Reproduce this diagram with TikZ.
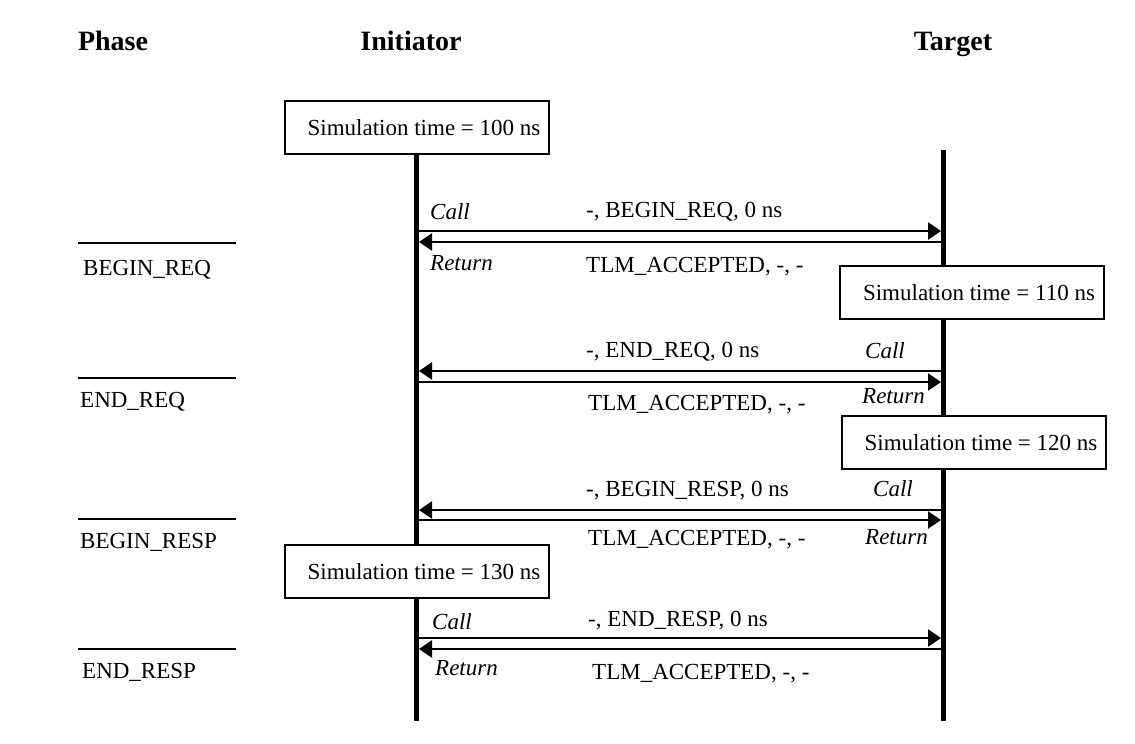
\documentclass[tikz,border=0pt]{standalone}
\usepackage{fontspec}
\setmainfont{Liberation Serif}
\usetikzlibrary{arrows.meta}
\begin{document}
\begin{tikzpicture}[x=1pt,y=-1pt,
  lbl/.style={inner sep=0, anchor=base west, font=\fontsize{23}{27}\selectfont},
  ital/.style={inner sep=0, anchor=base west, font=\fontsize{23}{27}\selectfont\itshape},
  hdr/.style={inner sep=0, anchor=base, font=\fontsize{28}{32}\selectfont\bfseries},
  simbox/.style={draw, line width=2, fill=white, minimum width=264, minimum height=53, anchor=north west, inner sep=0, font=\fontsize{23}{27}\selectfont},
  life/.style={line width=5},
  msg/.style={line width=2.5, -{Triangle[length=13,width=17]}},
  phaseline/.style={line width=2},
]
\useasboundingbox (0,0) rectangle (1135,744);

% headings
\node[hdr] (hphase) at (113,50) {Phase};
\node[hdr] (hinit) at (411,50) {Initiator};
\node[hdr] (htarg) at (953,50) {Target};

% lifelines
\coordinate (itop) at (416,152);
\coordinate (ibot) at (416,721);
\coordinate (ttop) at (943,150);
\coordinate (tbot) at (943,721);
\draw[life] (itop) -- (ibot);
\draw[life] (ttop) -- (tbot);

% phase separators
\coordinate (p1a) at (78,243); \coordinate (p1b) at (236,243);
\coordinate (p2a) at (78,378); \coordinate (p2b) at (236,378);
\coordinate (p3a) at (78,519); \coordinate (p3b) at (236,519);
\coordinate (p4a) at (78,649); \coordinate (p4b) at (236,649);
\draw[phaseline] (p1a) -- (p1b);
\draw[phaseline] (p2a) -- (p2b);
\draw[phaseline] (p3a) -- (p3b);
\draw[phaseline] (p4a) -- (p4b);
\node[lbl] (ph1) at (83,275) {BEGIN\_REQ};
\node[lbl] (ph2) at (80,407) {END\_REQ};
\node[lbl] (ph3) at (80,548) {BEGIN\_RESP};
\node[lbl] (ph4) at (82,678) {END\_RESP};

% exchange 1 : BEGIN_REQ
\coordinate (i1a) at (416,231); \coordinate (t1a) at (941,231);
\coordinate (i1b) at (419,242); \coordinate (t1b) at (943,242);
\draw[msg] (i1a) -- (t1a);
\draw[msg] (t1b) -- (i1b);
\node[ital] (call1) at (430,219) {Call};
\node[ital] (ret1) at (430,270) {Return};
\node[lbl] (m1) at (586,217) {-, BEGIN\_REQ, 0 ns};
\node[lbl] (r1) at (586,272) {TLM\_ACCEPTED, -, -};

% exchange 2 : END_REQ
\coordinate (t2a) at (943,371); \coordinate (i2a) at (419,371);
\coordinate (i2b) at (416,382); \coordinate (t2b) at (941,382);
\draw[msg] (t2a) -- (i2a);
\draw[msg] (i2b) -- (t2b);
\node[ital] (call2) at (865,358) {Call};
\node[ital] (ret2) at (862,403) {Return};
\node[lbl] (m2) at (586,357) {-, END\_REQ, 0 ns};
\node[lbl] (r2) at (588,410) {TLM\_ACCEPTED, -, -};

% exchange 3 : BEGIN_RESP
\coordinate (t3a) at (943,510); \coordinate (i3a) at (419,510);
\coordinate (i3b) at (416,520); \coordinate (t3b) at (941,520);
\draw[msg] (t3a) -- (i3a);
\draw[msg] (i3b) -- (t3b);
\node[ital] (call3) at (873,496) {Call};
\node[ital] (ret3) at (865,544) {Return};
\node[lbl] (m3) at (586,496) {-, BEGIN\_RESP, 0 ns};
\node[lbl] (r3) at (588,545) {TLM\_ACCEPTED, -, -};

% exchange 4 : END_RESP
\coordinate (i4a) at (416,638); \coordinate (t4a) at (941,638);
\coordinate (t4b) at (943,649); \coordinate (i4b) at (419,649);
\draw[msg] (i4a) -- (t4a);
\draw[msg] (t4b) -- (i4b);
\node[ital] (call4) at (432,629) {Call};
\node[ital] (ret4) at (435,675) {Return};
\node[lbl] (m4) at (588,626) {-, END\_RESP, 0 ns};
\node[lbl] (r4) at (592,679) {TLM\_ACCEPTED, -, -};

% simulation time boxes
\node[simbox] (s100) at (284,100) {\hspace*{14pt}Simulation time = 100 ns};
\node[simbox] (s110) at (839,265) {\hspace*{14pt}Simulation time = 110 ns};
\node[simbox] (s120) at (841,415) {\hspace*{14pt}Simulation time = 120 ns};
\node[simbox] (s130) at (284,544) {\hspace*{14pt}Simulation time = 130 ns};
\end{tikzpicture}
\end{document}
